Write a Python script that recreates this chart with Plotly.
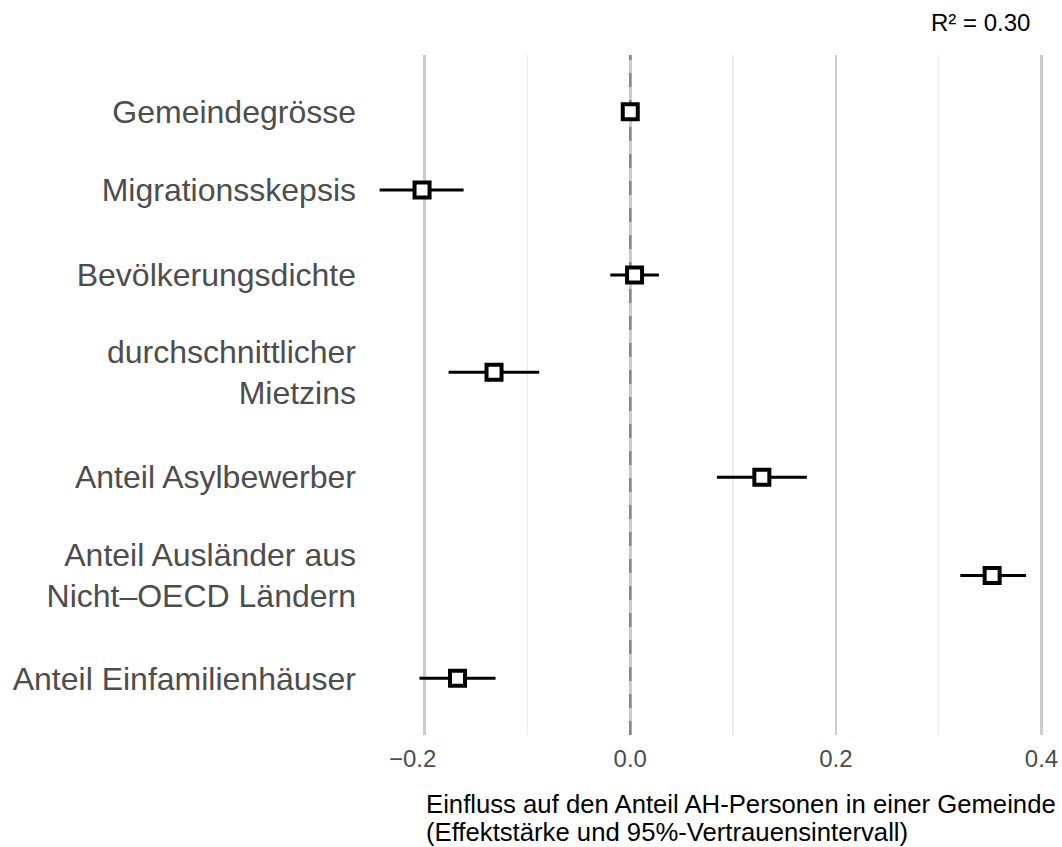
import plotly.graph_objects as go

# ---- data ----
labels = [
    "Gemeindegrösse",
    "Migrationsskepsis",
    "Bevölkerungsdichte",
    "durchschnittlicher<br>Mietzins",
    "Anteil Asylbewerber",
    "Anteil Ausländer aus<br>Nicht\u2013OECD Ländern",
    "Anteil Einfamilienhäuser",
]
estimate = [0.000, -0.2025, 0.0042, -0.1325, 0.128, 0.352, -0.168]
ci_low = [-0.005, -0.2438, -0.0194, -0.1767, 0.0843, 0.321, -0.205]
ci_high = [0.005, -0.1621, 0.0279, -0.0885, 0.1718, 0.385, -0.131]
row_pos = [7.0, 6.17, 5.27, 4.24, 3.13, 2.09, 1.0]

x_tickvals = [-0.2, 0.0, 0.2, 0.4]
x_ticktext = ["\u22120.2\u2002\u2002", "0.0", "0.2", "0.4"]

x_title_lines = ["Einfluss auf den Anteil AH-Personen in einer Gemeinde",
                 "(Effektstärke und 95%-Vertrauensintervall)"]
r2_text = "R\u00b2 = 0.30"

X_RANGE = [-0.258, 0.418]
Y_RANGE = [0.4, 7.6]

FONT = "Liberation Sans, Arial, Helvetica, sans-serif"

fig = go.Figure()
# dashed reference line at zero effect (drawn under the markers)
fig.add_trace(go.Scatter(
    x=[0, 0], y=Y_RANGE, mode="lines",
    line=dict(color="#878787", width=2.5, dash="14px,13px"),
    showlegend=False, hoverinfo="skip",
))
fig.add_trace(go.Scatter(
    x=estimate,
    y=row_pos,
    mode="markers",
    marker=dict(symbol="square", size=15, color="white",
                line=dict(color="black", width=4)),
    error_x=dict(type="data", symmetric=False,
                 array=[h - e for h, e in zip(ci_high, estimate)],
                 arrayminus=[e - l for e, l in zip(estimate, ci_low)],
                 color="black", thickness=3, width=0),
    showlegend=False,
    hoverinfo="skip",
))

for i, line in enumerate(x_title_lines):
    fig.add_annotation(text=line, xref="x", yref="paper", x=-0.2, y=0,
                       xanchor="left", yanchor="top", align="left", showarrow=False,
                       xshift=-1, yshift=-53 - 28 * i,
                       font=dict(family=FONT, size=25.7, color="black"))
fig.add_annotation(text=r2_text, xref="paper", yref="paper", x=1, y=1,
                   xanchor="right", yanchor="middle", showarrow=False,
                   xshift=-28, yshift=33, font=dict(family=FONT, size=24, color="black"))

fig.update_layout(
    width=1062, height=847, autosize=False,
    margin=dict(l=365, r=2, t=55, b=112),
    paper_bgcolor="white", plot_bgcolor="white",
    font=dict(family=FONT),
    xaxis=dict(range=X_RANGE, tickvals=x_tickvals, ticktext=x_ticktext,
               showgrid=True, gridcolor="#cccccc", gridwidth=2.5,
               minor=dict(tickvals=[-0.1, 0.1, 0.3], showgrid=True,
                          gridcolor="#ebebeb", gridwidth=1.3),
               zeroline=False, showline=False, ticks="",
               ticklabelstandoff=7,
               tickfont=dict(family=FONT, size=24, color="#4d4d4d")),
    yaxis=dict(range=Y_RANGE, tickvals=row_pos, ticktext=labels,
               showgrid=False, zeroline=False, showline=False, ticks="",
               ticklabelstandoff=8,
               tickfont=dict(family=FONT, size=32, color="#4d4d4d")),
)

# remove the browser's default page margin so the 1062x847 figure fills the window
fig.write_html("out.html",
               config={"displayModeBar": False, "staticPlot": True},
               post_script="document.body.style.margin='0';"
                           "document.body.style.overflow='hidden';")
